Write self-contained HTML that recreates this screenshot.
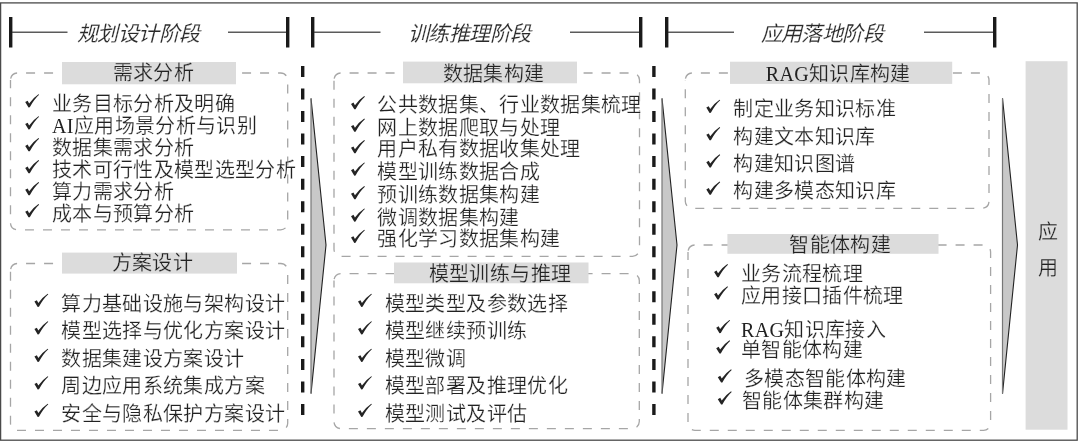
<!DOCTYPE html>
<html lang="zh-CN"><head><meta charset="utf-8"><style>
html,body{margin:0;padding:0;background:#fff;}
#c{filter:grayscale(1) blur(0.3px);position:relative;width:1080px;height:446px;overflow:hidden;background:#fff;}
svg{position:absolute;left:0;top:0;}
.t{position:absolute;white-space:nowrap;font-family:"Liberation Serif",serif;color:#222;line-height:20px;font-size:20px;}
.s{-webkit-text-stroke:0.25px #fff;}
.L{-webkit-text-stroke:0;}
.g{-webkit-text-stroke:0.25px #dbdcdd;}
.ti{font-style:italic;-webkit-text-stroke:0.15px #fff;font-size:21px;line-height:21px;letter-spacing:-0.6px;color:#2a2a2a;}
</style></head><body><div id="c">
<svg width="1080" height="446" viewBox="0 0 1080 446">
<rect x="0.6" y="2.9" width="1076.6" height="437.3" fill="none" stroke="#4a4a4a" stroke-width="1.3"/>
<rect x="9" y="17" width="3.4" height="30.5" fill="#1a1a1a"/>
<rect x="286" y="17" width="3.4" height="30.5" fill="#1a1a1a"/>
<rect x="311" y="17" width="3.4" height="30.5" fill="#1a1a1a"/>
<rect x="639" y="17" width="3.4" height="30.5" fill="#1a1a1a"/>
<rect x="665" y="17" width="3.4" height="30.5" fill="#1a1a1a"/>
<rect x="993" y="17" width="3.4" height="30.5" fill="#1a1a1a"/>
<rect x="12" y="31.6" width="55.5" height="1.2" fill="#333"/>
<rect x="228" y="31.6" width="58" height="1.2" fill="#333"/>
<rect x="314" y="31.6" width="66.5" height="1.2" fill="#333"/>
<rect x="570" y="31.6" width="69" height="1.2" fill="#333"/>
<rect x="668" y="31.6" width="66" height="1.2" fill="#333"/>
<rect x="924" y="31.6" width="69" height="1.2" fill="#333"/>
<path d="M10.5,80 A7,7 0 0 1 17.5,73 L280.7,73 A7,7 0 0 1 287.7,80 L287.7,222.8 A7,7 0 0 1 280.7,229.8 L17.5,229.8 A7,7 0 0 1 10.5,222.8 Z" fill="none" stroke="#a6a6a6" stroke-width="1.3" stroke-dasharray="9 9" stroke-dashoffset="-1.5"/>
<path d="M10.5,270.5 A7,7 0 0 1 17.5,263.5 L280.7,263.5 A7,7 0 0 1 287.7,270.5 L287.7,423.3 A7,7 0 0 1 280.7,430.3 L17.5,430.3 A7,7 0 0 1 10.5,423.3 Z" fill="none" stroke="#a6a6a6" stroke-width="1.3" stroke-dasharray="9 9" stroke-dashoffset="-1.5"/>
<path d="M334,80 A7,7 0 0 1 341,73 L632.5,73 A7,7 0 0 1 639.5,80 L639.5,249.3 A7,7 0 0 1 632.5,256.3 L341,256.3 A7,7 0 0 1 334,249.3 Z" fill="none" stroke="#a6a6a6" stroke-width="1.3" stroke-dasharray="9 9" stroke-dashoffset="-1.5"/>
<path d="M334,280.6 A7,7 0 0 1 341,273.6 L632.3,273.6 A7,7 0 0 1 639.3,280.6 L639.3,421.6 A7,7 0 0 1 632.3,428.6 L341,428.6 A7,7 0 0 1 334,421.6 Z" fill="none" stroke="#a6a6a6" stroke-width="1.3" stroke-dasharray="9 9" stroke-dashoffset="-1.5"/>
<path d="M685.3,80 A7,7 0 0 1 692.3,73 L982,73 A7,7 0 0 1 989,80 L989,201.3 A7,7 0 0 1 982,208.3 L692.3,208.3 A7,7 0 0 1 685.3,201.3 Z" fill="none" stroke="#a6a6a6" stroke-width="1.3" stroke-dasharray="9 9" stroke-dashoffset="-1.5"/>
<path d="M688,252 A7,7 0 0 1 695,245 L983.6,245 A7,7 0 0 1 990.6,252 L990.6,423.3 A7,7 0 0 1 983.6,430.3 L695,430.3 A7,7 0 0 1 688,423.3 Z" fill="none" stroke="#a6a6a6" stroke-width="1.3" stroke-dasharray="9 9" stroke-dashoffset="-1.5"/>
<rect x="62" y="62" width="174" height="22.299999999999997" fill="#dbdcdd"/>
<rect x="62" y="252.6" width="175" height="21.00000000000003" fill="#dbdcdd"/>
<rect x="403" y="61.6" width="174" height="21.699999999999996" fill="#dbdcdd"/>
<rect x="394" y="262.5" width="194.5" height="20.80000000000001" fill="#dbdcdd"/>
<rect x="730" y="61.7" width="222.20000000000005" height="22.200000000000003" fill="#dbdcdd"/>
<rect x="727.4" y="234" width="211.10000000000002" height="19.80000000000001" fill="#dbdcdd"/>
<rect x="1025.6" y="61.2" width="41.9" height="368.5" fill="#dbdcdd"/>
<line x1="302.7" y1="66" x2="302.7" y2="416" stroke="#1a1a1a" stroke-width="3.4" stroke-dasharray="11 11.53"/>
<line x1="653.9000000000001" y1="66" x2="653.9000000000001" y2="416" stroke="#1a1a1a" stroke-width="3.4" stroke-dasharray="11 11.53"/>
<path d="M311,98.4 L326,245 L311,393.6 Z" fill="#c8c8c8" stroke="none"/>
<path d="M311,98.4 L326,245 L311,393.6" fill="none" stroke="#222" stroke-width="1.1"/>
<line x1="311" y1="98.4" x2="311" y2="393.6" stroke="#777" stroke-width="1.2"/>
<path d="M662,98.4 L677,245 L662,393.6 Z" fill="#c8c8c8" stroke="none"/>
<path d="M662,98.4 L677,245 L662,393.6" fill="none" stroke="#222" stroke-width="1.1"/>
<line x1="662" y1="98.4" x2="662" y2="393.6" stroke="#777" stroke-width="1.2"/>
<path d="M1002.5,98.4 L1017.5,245 L1002.5,393.6 Z" fill="#c8c8c8" stroke="none"/>
<path d="M1002.5,98.4 L1017.5,245 L1002.5,393.6" fill="none" stroke="#222" stroke-width="1.1"/>
<line x1="1002.5" y1="98.4" x2="1002.5" y2="393.6" stroke="#777" stroke-width="1.2"/>
<path transform="translate(25.0,94.2) scale(1.06)" d="M0.2,7.4 L2.5,6.1 L3.9,8.7 Q7.4,3.6 12.7,0 L13.3,0.6 Q8.6,4.8 4.5,12.4 L3.3,12.5 Z" fill="#242424"/>
<path transform="translate(25.0,116.2) scale(1.06)" d="M0.2,7.4 L2.5,6.1 L3.9,8.7 Q7.4,3.6 12.7,0 L13.3,0.6 Q8.6,4.8 4.5,12.4 L3.3,12.5 Z" fill="#242424"/>
<path transform="translate(25.0,138.1) scale(1.06)" d="M0.2,7.4 L2.5,6.1 L3.9,8.7 Q7.4,3.6 12.7,0 L13.3,0.6 Q8.6,4.8 4.5,12.4 L3.3,12.5 Z" fill="#242424"/>
<path transform="translate(25.0,160.1) scale(1.06)" d="M0.2,7.4 L2.5,6.1 L3.9,8.7 Q7.4,3.6 12.7,0 L13.3,0.6 Q8.6,4.8 4.5,12.4 L3.3,12.5 Z" fill="#242424"/>
<path transform="translate(25.0,182.0) scale(1.06)" d="M0.2,7.4 L2.5,6.1 L3.9,8.7 Q7.4,3.6 12.7,0 L13.3,0.6 Q8.6,4.8 4.5,12.4 L3.3,12.5 Z" fill="#242424"/>
<path transform="translate(25.0,204.0) scale(1.06)" d="M0.2,7.4 L2.5,6.1 L3.9,8.7 Q7.4,3.6 12.7,0 L13.3,0.6 Q8.6,4.8 4.5,12.4 L3.3,12.5 Z" fill="#242424"/>
<path transform="translate(34.2,293.7) scale(1.06)" d="M0.2,7.4 L2.5,6.1 L3.9,8.7 Q7.4,3.6 12.7,0 L13.3,0.6 Q8.6,4.8 4.5,12.4 L3.3,12.5 Z" fill="#242424"/>
<path transform="translate(34.2,321.2) scale(1.06)" d="M0.2,7.4 L2.5,6.1 L3.9,8.7 Q7.4,3.6 12.7,0 L13.3,0.6 Q8.6,4.8 4.5,12.4 L3.3,12.5 Z" fill="#242424"/>
<path transform="translate(34.2,348.7) scale(1.06)" d="M0.2,7.4 L2.5,6.1 L3.9,8.7 Q7.4,3.6 12.7,0 L13.3,0.6 Q8.6,4.8 4.5,12.4 L3.3,12.5 Z" fill="#242424"/>
<path transform="translate(34.2,376.2) scale(1.06)" d="M0.2,7.4 L2.5,6.1 L3.9,8.7 Q7.4,3.6 12.7,0 L13.3,0.6 Q8.6,4.8 4.5,12.4 L3.3,12.5 Z" fill="#242424"/>
<path transform="translate(34.2,403.7) scale(1.06)" d="M0.2,7.4 L2.5,6.1 L3.9,8.7 Q7.4,3.6 12.7,0 L13.3,0.6 Q8.6,4.8 4.5,12.4 L3.3,12.5 Z" fill="#242424"/>
<path transform="translate(350.8,96.1) scale(1.06)" d="M0.2,7.4 L2.5,6.1 L3.9,8.7 Q7.4,3.6 12.7,0 L13.3,0.6 Q8.6,4.8 4.5,12.4 L3.3,12.5 Z" fill="#242424"/>
<path transform="translate(350.8,118.5) scale(1.06)" d="M0.2,7.4 L2.5,6.1 L3.9,8.7 Q7.4,3.6 12.7,0 L13.3,0.6 Q8.6,4.8 4.5,12.4 L3.3,12.5 Z" fill="#242424"/>
<path transform="translate(350.8,140.0) scale(1.06)" d="M0.2,7.4 L2.5,6.1 L3.9,8.7 Q7.4,3.6 12.7,0 L13.3,0.6 Q8.6,4.8 4.5,12.4 L3.3,12.5 Z" fill="#242424"/>
<path transform="translate(350.8,162.4) scale(1.06)" d="M0.2,7.4 L2.5,6.1 L3.9,8.7 Q7.4,3.6 12.7,0 L13.3,0.6 Q8.6,4.8 4.5,12.4 L3.3,12.5 Z" fill="#242424"/>
<path transform="translate(350.8,186.0) scale(1.06)" d="M0.2,7.4 L2.5,6.1 L3.9,8.7 Q7.4,3.6 12.7,0 L13.3,0.6 Q8.6,4.8 4.5,12.4 L3.3,12.5 Z" fill="#242424"/>
<path transform="translate(350.8,208.4) scale(1.06)" d="M0.2,7.4 L2.5,6.1 L3.9,8.7 Q7.4,3.6 12.7,0 L13.3,0.6 Q8.6,4.8 4.5,12.4 L3.3,12.5 Z" fill="#242424"/>
<path transform="translate(350.8,229.7) scale(1.06)" d="M0.2,7.4 L2.5,6.1 L3.9,8.7 Q7.4,3.6 12.7,0 L13.3,0.6 Q8.6,4.8 4.5,12.4 L3.3,12.5 Z" fill="#242424"/>
<path transform="translate(357.8,293.7) scale(1.06)" d="M0.2,7.4 L2.5,6.1 L3.9,8.7 Q7.4,3.6 12.7,0 L13.3,0.6 Q8.6,4.8 4.5,12.4 L3.3,12.5 Z" fill="#242424"/>
<path transform="translate(357.8,321.2) scale(1.06)" d="M0.2,7.4 L2.5,6.1 L3.9,8.7 Q7.4,3.6 12.7,0 L13.3,0.6 Q8.6,4.8 4.5,12.4 L3.3,12.5 Z" fill="#242424"/>
<path transform="translate(357.8,348.7) scale(1.06)" d="M0.2,7.4 L2.5,6.1 L3.9,8.7 Q7.4,3.6 12.7,0 L13.3,0.6 Q8.6,4.8 4.5,12.4 L3.3,12.5 Z" fill="#242424"/>
<path transform="translate(357.8,376.2) scale(1.06)" d="M0.2,7.4 L2.5,6.1 L3.9,8.7 Q7.4,3.6 12.7,0 L13.3,0.6 Q8.6,4.8 4.5,12.4 L3.3,12.5 Z" fill="#242424"/>
<path transform="translate(357.8,403.7) scale(1.06)" d="M0.2,7.4 L2.5,6.1 L3.9,8.7 Q7.4,3.6 12.7,0 L13.3,0.6 Q8.6,4.8 4.5,12.4 L3.3,12.5 Z" fill="#242424"/>
<path transform="translate(706.1,99.7) scale(1.06)" d="M0.2,7.4 L2.5,6.1 L3.9,8.7 Q7.4,3.6 12.7,0 L13.3,0.6 Q8.6,4.8 4.5,12.4 L3.3,12.5 Z" fill="#242424"/>
<path transform="translate(706.1,127.0) scale(1.06)" d="M0.2,7.4 L2.5,6.1 L3.9,8.7 Q7.4,3.6 12.7,0 L13.3,0.6 Q8.6,4.8 4.5,12.4 L3.3,12.5 Z" fill="#242424"/>
<path transform="translate(706.1,154.3) scale(1.06)" d="M0.2,7.4 L2.5,6.1 L3.9,8.7 Q7.4,3.6 12.7,0 L13.3,0.6 Q8.6,4.8 4.5,12.4 L3.3,12.5 Z" fill="#242424"/>
<path transform="translate(706.1,181.6) scale(1.06)" d="M0.2,7.4 L2.5,6.1 L3.9,8.7 Q7.4,3.6 12.7,0 L13.3,0.6 Q8.6,4.8 4.5,12.4 L3.3,12.5 Z" fill="#242424"/>
<path transform="translate(713.9,264.1) scale(1.06)" d="M0.2,7.4 L2.5,6.1 L3.9,8.7 Q7.4,3.6 12.7,0 L13.3,0.6 Q8.6,4.8 4.5,12.4 L3.3,12.5 Z" fill="#242424"/>
<path transform="translate(713.9,286.3) scale(1.06)" d="M0.2,7.4 L2.5,6.1 L3.9,8.7 Q7.4,3.6 12.7,0 L13.3,0.6 Q8.6,4.8 4.5,12.4 L3.3,12.5 Z" fill="#242424"/>
<path transform="translate(716.0,319.9) scale(1.06)" d="M0.2,7.4 L2.5,6.1 L3.9,8.7 Q7.4,3.6 12.7,0 L13.3,0.6 Q8.6,4.8 4.5,12.4 L3.3,12.5 Z" fill="#242424"/>
<path transform="translate(716.0,340.3) scale(1.06)" d="M0.2,7.4 L2.5,6.1 L3.9,8.7 Q7.4,3.6 12.7,0 L13.3,0.6 Q8.6,4.8 4.5,12.4 L3.3,12.5 Z" fill="#242424"/>
<path transform="translate(717.6,369.3) scale(1.06)" d="M0.2,7.4 L2.5,6.1 L3.9,8.7 Q7.4,3.6 12.7,0 L13.3,0.6 Q8.6,4.8 4.5,12.4 L3.3,12.5 Z" fill="#242424"/>
<path transform="translate(717.6,391.3) scale(1.06)" d="M0.2,7.4 L2.5,6.1 L3.9,8.7 Q7.4,3.6 12.7,0 L13.3,0.6 Q8.6,4.8 4.5,12.4 L3.3,12.5 Z" fill="#242424"/>
</svg>
<div class="t ti" style="left:77px;top:23.5px;">规划设计阶段</div>
<div class="t ti" style="left:408px;top:23.5px;">训练推理阶段</div>
<div class="t ti" style="left:760.5px;top:23.5px;">应用落地阶段</div>
<div class="t g" style="left:112.8px;top:63.3px;font-size:20px;letter-spacing:0.35px;">需求分析</div>
<div class="t g" style="left:111.5px;top:252.8px;font-size:20px;letter-spacing:0.35px;">方案设计</div>
<div class="t g" style="left:442.6px;top:63.6px;font-size:20px;letter-spacing:0.35px;">数据集构建</div>
<div class="t g" style="left:428.8px;top:263.8px;font-size:20px;letter-spacing:0.35px;">模型训练与推理</div>
<div class="t g" style="left:765.8px;top:63.8px;font-size:20px;letter-spacing:0.35px;"><span class="L">RAG</span>知识库构建</div>
<div class="t g" style="left:789.3px;top:235.3px;font-size:20px;letter-spacing:0.35px;">智能体构建</div>
<div class="t g" style="left:1037.5px;top:221.8px;font-size:20px;">应</div>
<div class="t g" style="left:1037.5px;top:258.2px;font-size:20px;">用</div>
<div class="t s" style="left:52.0px;top:94.0px;font-size:20px;letter-spacing:0.35px;">业务目标分析及明确</div>
<div class="t s" style="left:52.0px;top:116.0px;font-size:20px;letter-spacing:0.35px;"><span class="L">AI</span>应用场景分析与识别</div>
<div class="t s" style="left:52.0px;top:137.9px;font-size:20px;letter-spacing:0.35px;">数据集需求分析</div>
<div class="t s" style="left:52.0px;top:159.9px;font-size:20px;letter-spacing:0.35px;">技术可行性及模型选型分析</div>
<div class="t s" style="left:52.0px;top:181.8px;font-size:20px;letter-spacing:0.35px;">算力需求分析</div>
<div class="t s" style="left:52.0px;top:203.8px;font-size:20px;letter-spacing:0.35px;">成本与预算分析</div>
<div class="t s" style="left:61.4px;top:293.5px;font-size:20px;letter-spacing:0.35px;">算力基础设施与架构设计</div>
<div class="t s" style="left:61.4px;top:321.0px;font-size:20px;letter-spacing:0.35px;">模型选择与优化方案设计</div>
<div class="t s" style="left:61.4px;top:348.5px;font-size:20px;letter-spacing:0.35px;">数据集建设方案设计</div>
<div class="t s" style="left:61.4px;top:376.0px;font-size:20px;letter-spacing:0.35px;">周边应用系统集成方案</div>
<div class="t s" style="left:61.4px;top:403.5px;font-size:20px;letter-spacing:0.35px;">安全与隐私保护方案设计</div>
<div class="t s" style="left:377.2px;top:95.4px;font-size:20px;letter-spacing:0.35px;">公共数据集、行业数据集梳理</div>
<div class="t s" style="left:377.2px;top:117.8px;font-size:20px;letter-spacing:0.35px;">网上数据爬取与处理</div>
<div class="t s" style="left:377.2px;top:139.3px;font-size:20px;letter-spacing:0.35px;">用户私有数据收集处理</div>
<div class="t s" style="left:377.2px;top:161.7px;font-size:20px;letter-spacing:0.35px;">模型训练数据合成</div>
<div class="t s" style="left:377.2px;top:185.3px;font-size:20px;letter-spacing:0.35px;">预训练数据集构建</div>
<div class="t s" style="left:377.2px;top:207.7px;font-size:20px;letter-spacing:0.35px;">微调数据集构建</div>
<div class="t s" style="left:377.2px;top:229.0px;font-size:20px;letter-spacing:0.35px;">强化学习数据集构建</div>
<div class="t s" style="left:384.8px;top:293.5px;font-size:20px;letter-spacing:0.35px;">模型类型及参数选择</div>
<div class="t s" style="left:384.8px;top:321.0px;font-size:20px;letter-spacing:0.35px;">模型继续预训练</div>
<div class="t s" style="left:384.8px;top:348.5px;font-size:20px;letter-spacing:0.35px;">模型微调</div>
<div class="t s" style="left:384.8px;top:376.0px;font-size:20px;letter-spacing:0.35px;">模型部署及推理优化</div>
<div class="t s" style="left:384.8px;top:403.5px;font-size:20px;letter-spacing:0.35px;">模型测试及评估</div>
<div class="t s" style="left:733.2px;top:99.2px;font-size:20px;letter-spacing:0.35px;">制定业务知识标准</div>
<div class="t s" style="left:733.2px;top:126.5px;font-size:20px;letter-spacing:0.35px;">构建文本知识库</div>
<div class="t s" style="left:733.2px;top:153.8px;font-size:20px;letter-spacing:0.35px;">构建知识图谱</div>
<div class="t s" style="left:733.2px;top:181.1px;font-size:20px;letter-spacing:0.35px;">构建多模态知识库</div>
<div class="t s" style="left:740.9px;top:264.0px;font-size:20px;letter-spacing:0.35px;">业务流程梳理</div>
<div class="t s" style="left:740.9px;top:286.2px;font-size:20px;letter-spacing:0.35px;">应用接口插件梳理</div>
<div class="t s" style="left:741.1px;top:319.8px;font-size:20px;letter-spacing:0.35px;"><span class="L">RAG</span>知识库接入</div>
<div class="t s" style="left:741.1px;top:340.2px;font-size:20px;letter-spacing:0.35px;">单智能体构建</div>
<div class="t s" style="left:744.0px;top:369.2px;font-size:20px;letter-spacing:0.35px;">多模态智能体构建</div>
<div class="t s" style="left:741.9px;top:391.2px;font-size:20px;letter-spacing:0.35px;">智能体集群构建</div>
</div></body></html>
